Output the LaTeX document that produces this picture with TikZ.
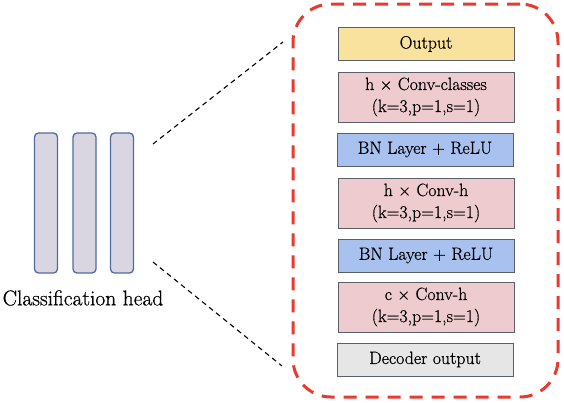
\documentclass[tikz,border=0pt]{standalone}
\usepackage{fontspec}
\setmainfont{Latin Modern Roman}
\newfontfamily\txt{Latin Modern Roman}[FakeBold=0.6]
\definecolor{outyellow}{HTML}{F8E29E}
\definecolor{convpink}{HTML}{EECBCE}
\definecolor{bnblue}{HTML}{A9C1EE}
\definecolor{decgray}{HTML}{E6E6E6}
\definecolor{barfill}{HTML}{DAD6E1}
\definecolor{barline}{HTML}{4E6BA6}
\definecolor{framered}{HTML}{EA3A2F}
\definecolor{boxline}{HTML}{5A5E66}
\tikzset{
  layer/.style={draw=boxline, line width=0.9pt, minimum width=176pt, inner sep=0pt,
    align=center, font=\txt\fontsize{17.8}{22}\selectfont},
  onebox/.style={layer, minimum height=33pt},
  twobox/.style={layer, minimum height=50pt},
  bar/.style={draw=barline, fill=barfill, line width=1.3pt, rounded corners=4pt,
    minimum width=23pt, minimum height=140pt, inner sep=0pt},
  zoomline/.style={black, line width=1.1pt, dash pattern=on 5pt off 4pt},
}
\begin{document}
\begin{tikzpicture}[x=1pt,y=-1pt]
\useasboundingbox (0,0) rectangle (564,402);
% frame
\node[draw=framered, line width=3pt, dash pattern=on 13pt off 9pt, rounded corners=38pt,
  minimum width=265pt, minimum height=393pt, inner sep=0pt] (frame) at (425.5,200.5) {};
% bars
\node[bar] (b1) at (46,203) {};
\node[bar] (b2) at (84.5,203) {};
\node[bar] (b3) at (122,203) {};
\node[font=\txt\fontsize{21.5}{24}\selectfont] (lbl) at (83,298) {Classification head};
% layers
\node[onebox, fill=outyellow] (out) at (426,44) {Output};
\node[twobox, fill=convpink] (cc) at (426,97) {h × Conv-classes\\(k=3,p=1,s=1)};
\node[onebox, fill=bnblue] (bn1) at (425,149.5) {BN Layer + ReLU};
\node[twobox, fill=convpink] (ch) at (426,203) {h × Conv-h\\(k=3,p=1,s=1)};
\node[onebox, fill=bnblue] (bn2) at (426,255.5) {BN Layer + ReLU};
\node[twobox, fill=convpink] (c2) at (426,307) {c × Conv-h\\(k=3,p=1,s=1)};
\node[onebox, fill=decgray] (dec) at (425,359.5) {Decoder output};
% zoom lines
\coordinate (u1) at (153,144);
\coordinate (u2) at (283,42);
\coordinate (l1) at (153,262);
\coordinate (l2) at (282,366);
\draw[zoomline] (u1) -- (u2);
\draw[zoomline] (l1) -- (l2);
\end{tikzpicture}
\end{document}
